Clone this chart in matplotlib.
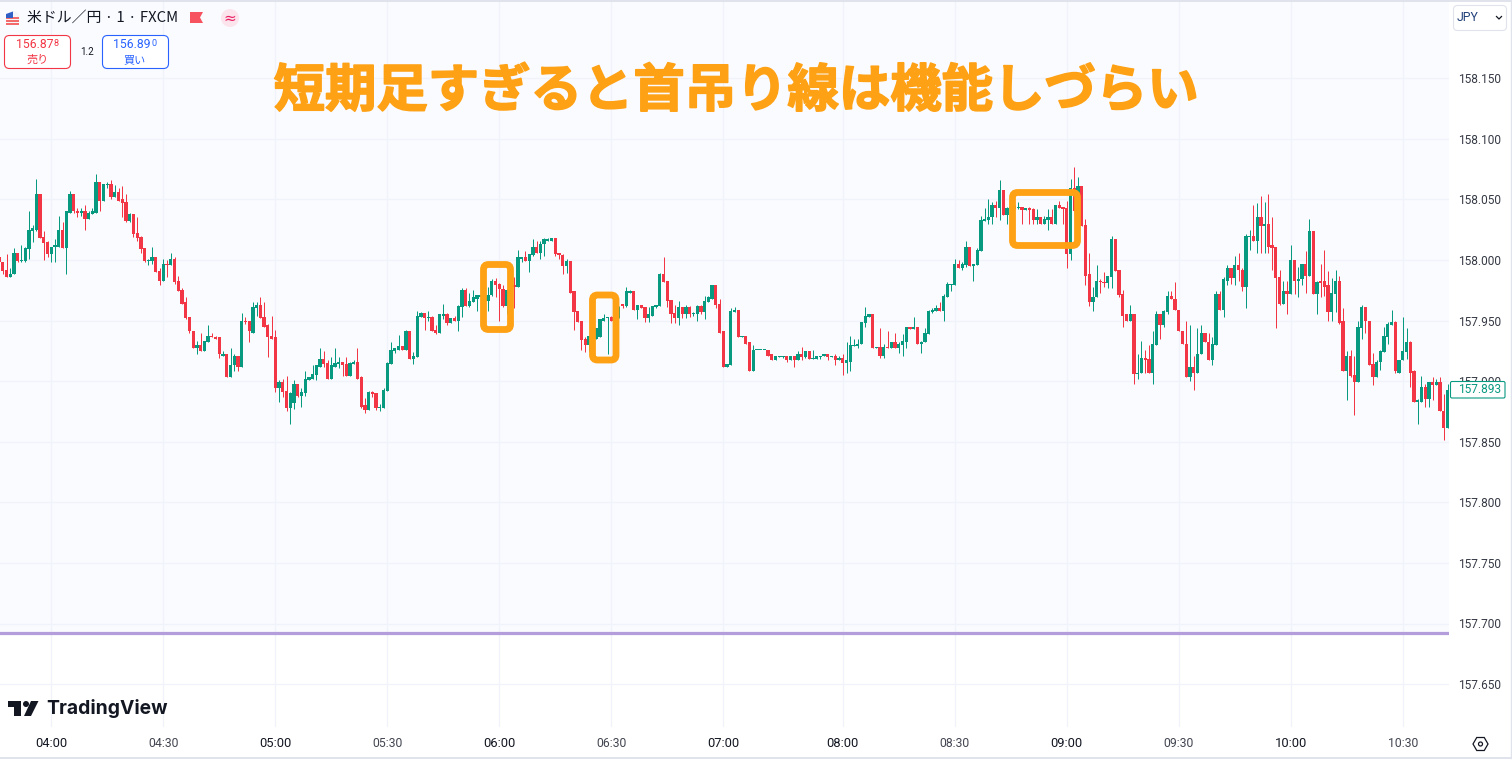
import numpy as np
import matplotlib
matplotlib.use("Agg")
import matplotlib.pyplot as plt
import matplotlib.patheffects as pe
from matplotlib.patches import FancyBboxPatch, Polygon, Circle, RegularPolygon, Rectangle
from matplotlib.lines import Line2D
from matplotlib.transforms import Affine2D

# Prices are thousandths of a yen above 157.000
price_base = 157.0
opens = [
 1002,998,992,986,988,1006,999,999,1009,1024, 1025,1054,1019,1015,1005,1011,1011,1025,1010,1039,
 1054,1040,1039,1040,1034,1038,1039,1064,1049,1062, 1063,1052,1056,1050,1048,1032,1038,1022,1019,1010,
 999,999,1002,991,983,997,996,1001,983,975, 965,953,941,927,930,925,932,937,936,936,
 921,922,903,913,921,912,950,950,940,960, 963,953,946,937,936,894,899,892,878,882,
 898,888,890,901,902,905,912,918,915,902, 912,914,916,914,904,914,916,903,880,876,
 891,890,878,878,892,914,925,926,929,926, 941,918,920,953,956,952,953,942,940,954,
 955,948,952,950,961,975,962,965,968,969, 971,966,971,983,980,976,962,975,979,978,
 1001,1002,999,1004,1011,1006,1013,1016,1016,1018, 1006,1004,995,999,974,958,950,935,930,936,
 935,936,950,952,953,950,952,964,962,973, 974,959,963,961,952,954,961,962,988,983,
 967,956,952,961,955,961,955,955,962,957, 965,968,979,964,941,912,913,957,959,936,
 937,932,908,926,926,926,926,922,917,920, 920,921,917,921,917,922,920,925,918,918,
 920,921,922,920,921,917,919,915,916,929, 929,931,948,953,955,927,928,921,928,927,
 932,927,930,932,945,943,945,931,932,939, 957,958,960,958,969,979,979,997,993,996,
 1011,995,996,1007,1032,1033,1035,1045,1043,1058, 1037,1043,1044,1043,1044,1041,1043,1042,1033,1035,
 1030,1033,1035,1030,1045,1044,1043,1005,1059,1040, 1061,1029,988,965,969,983,982,981,986,1017,
 992,972,955,950,955,906,907,919,918,907, 930,955,946,957,970,968,959,941,931,903,
 912,907,922,940,932,917,930,972,959,983, 993,985,996,992,978,1019,1020,1016,1035,1028,
 1030,1012,1011,986,964,974,972,1000,983,984, 997,987,1024,972,983,983,979,957,972,983,
 950,908,921,905,899,944,961,950,914,903, 916,924,936,946,949,907,917,924,932,908,
 883,883,895,885,899,897,899,875,861]
highs = [
 1002,998,1005,993,1010,1006,1012,1011,1040,1029, 1067,1054,1024,1016,1011,1017,1036,1031,1040,1057,
 1054,1043,1043,1045,1040,1043,1071,1064,1063,1064, 1066,1062,1059,1061,1054,1039,1038,1035,1020,1010,
 1001,1011,1002,993,1001,1000,1006,1002,987,977, 969,953,941,933,940,933,946,940,937,936,
 925,922,927,922,921,956,953,950,965,965, 969,965,947,954,942,901,902,904,891,901,
 898,894,908,903,913,913,927,925,917,920, 927,920,916,920,916,917,927,904,886,892,
 892,890,881,894,916,932,927,938,929,942, 941,924,958,957,956,958,954,946,955,964,
 956,952,954,963,977,977,973,975,971,971, 972,978,984,985,981,979,976,978,986,1008,
 1002,1007,1005,1017,1016,1016,1018,1018,1018,1018, 1006,1005,1001,999,974,958,950,936,937,938,
 944,951,955,953,954,956,962,964,978,975, 974,963,963,961,961,962,963,989,1002,983,
 967,963,966,961,963,962,957,963,963,970, 970,979,979,968,941,914,960,961,959,937,
 937,932,930,926,926,926,926,922,921,921, 921,921,921,921,925,928,925,925,926,921,
 921,922,922,921,922,921,922,932,937,935, 935,949,961,955,955,928,944,931,941,932,
 940,932,939,945,945,953,945,933,944,959, 960,963,965,972,982,980,1001,1000,998,1016,
 1011,997,1010,1036,1043,1050,1048,1049,1066,1058, 1044,1045,1045,1048,1044,1043,1044,1043,1042,1035,
 1036,1042,1042,1045,1049,1044,1049,1067,1077,1068, 1061,1034,1006,978,996,984,990,987,1020,1017,
 992,975,955,963,955,922,933,926,930,941, 958,955,959,974,974,982,959,941,950,946,
 921,944,946,940,940,936,974,974,986,996, 993,1003,1006,993,1021,1025,1045,1047,1053,1048,
 1054,1035,1011,992,983,983,1012,1000,994,997, 1007,1034,1024,983,997,1008,991,985,992,987,
 960,925,926,921,950,963,961,950,923,917, 926,945,949,959,950,917,953,944,933,909,
 885,904,898,899,903,902,903,889,898]
lows = [
 998,988,986,986,988,998,998,998,1001,1015, 1024,1018,1000,1002,998,998,1011,1010,988,1039,
 1039,1035,1036,1025,1034,1038,1039,1040,1049,1059, 1050,1052,1049,1035,1031,1031,1019,1016,1006,998,
 996,997,990,979,983,986,996,980,974,964, 951,940,927,922,925,925,932,936,935,919,
 921,903,903,908,908,912,947,932,940,954, 952,945,920,935,891,883,887,875,865,877,
 887,879,888,901,902,901,912,912,902,902, 912,911,904,904,904,914,902,878,874,876,
 887,876,875,878,892,914,923,926,926,926, 918,914,920,953,942,950,941,939,940,951,
 946,948,950,941,953,962,961,965,958,966, 966,958,970,969,950,961,955,970,960,978,
 998,999,990,1003,1006,1001,1003,1016,1016,1003, 1001,988,989,973,942,949,926,924,925,934,
 935,936,950,922,950,948,952,960,961,973, 959,951,960,949,949,954,960,962,982,961,
 948,948,946,952,952,953,954,950,955,951, 965,968,960,940,912,912,913,957,936,936,
 931,908,908,926,926,926,921,917,917,920, 919,916,917,912,917,917,919,918,918,918,
 918,921,917,920,913,917,905,907,908,929, 927,931,945,953,927,927,919,919,927,927,
 927,923,921,927,943,943,931,923,932,939, 956,958,958,950,969,974,979,993,992,994,
 995,983,996,1007,1032,1030,1030,1035,1033,1037, 1030,1042,1042,1042,1030,1041,1030,1030,1030,1030,
 1030,1025,1030,1030,1043,1030,993,1000,1040,1034, 1028,979,962,958,969,973,978,977,977,991,
 969,945,950,950,898,902,907,907,907,898, 930,935,945,955,968,959,941,931,903,900,
 893,907,922,932,917,913,930,959,953,979, 980,979,983,974,960,1008,1016,1006,1006,1006,
 1006,992,944,963,964,955,972,972,969,979, 973,987,972,955,969,970,950,950,957,947,
 908,884,903,872,899,935,940,913,897,903, 909,924,931,946,907,907,917,918,895,883,
 865,883,879,879,884,897,875,851,861]
closes = [
 998,991,986,988,1006,999,1000,1010,1025,1026, 1054,1018,1014,1005,1011,1012,1025,1010,1040,1054,
 1040,1039,1040,1034,1039,1040,1064,1049,1063,1063, 1052,1056,1049,1047,1032,1038,1021,1018,1009,999,
 1000,1002,990,983,997,996,1001,982,974,964, 952,941,927,930,925,933,937,936,935,922,
 922,903,913,921,912,950,949,941,961,963, 952,945,936,935,894,899,891,878,890,898,
 888,891,902,903,906,913,918,914,902,913, 915,916,913,904,915,916,902,879,876,891,
 889,878,879,893,915,926,927,929,926,941, 918,921,954,956,952,953,941,940,955,955,
 948,952,950,962,975,962,966,969,971,971, 966,971,983,979,976,962,975,974,978,1002,
 1002,999,1005,1011,1006,1013,1017,1017,1018,1005, 1004,995,999,973,957,949,934,930,937,937,
 944,951,952,953,950,952,958,962,974,974, 959,963,960,952,955,962,963,988,982,966,
 955,952,961,955,961,955,956,962,957,966, 969,979,963,940,912,914,958,959,936,937,
 931,908,926,926,926,926,921,917,921,921, 921,917,921,917,922,920,925,918,919,921,
 921,922,920,921,917,919,915,917,930,930, 931,949,954,955,927,928,921,928,927,932,
 927,931,933,945,943,945,931,932,940,958, 959,960,958,970,980,980,997,993,997,1011,
 995,997,1008,1033,1034,1035,1045,1043,1058,1037, 1043,1044,1043,1044,1041,1043,1041,1033,1035,1030,
 1034,1035,1030,1045,1043,1042,1005,1059,1040,1061, 1028,987,965,969,983,982,981,987,1017,991,
 971,954,950,955,906,907,919,917,907,931, 955,946,958,970,968,959,941,931,903,912,
 907,922,940,932,917,931,972,959,984,993, 985,996,992,978,1020,1020,1016,1035,1028,1030,
 1011,1010,985,964,974,972,1000,983,984,997, 987,1024,972,982,981,978,957,973,983,948,
 908,921,904,899,945,961,950,913,903,916, 925,937,947,949,908,917,925,932,907,883,
 884,895,885,899,897,899,875,861,893]

first_bar = -14            # the 04:00 bar is bar 0
time_tick_bars = [0, 30, 60, 90, 120, 150, 180, 212, 242, 272, 302, 332, 362]
time_tick_labels = ["04:00","04:30","05:00","05:30","06:00","06:30","07:00",
                    "08:00","08:30","09:00","09:30","10:00","10:30"]
price_ticks = [158.15,158.10,158.05,158.00,157.95,157.90,157.85,157.80,157.75,157.70,157.65]
last_price = 157.893
level_line = 157.692
chart_title = "短期足すぎると首吊り線は機能しづらい"
symbol_title = "米ドル／円 · 1 · FXCM"
sell_price, sell_sup, buy_price, buy_sup, spread = "156.87", "8", "156.89", "0", "1.2"

W, H = 1512, 764
UP, DOWN = "#089981", "#f23645"
GRID, PANE = "#f0f3fa", "#f9fbff"
INK, ORANGE = "#131722", "#ffa114"
LATIN = "Roboto"
CJK = ["Noto Sans CJK JP", "DejaVu Sans"]

fig = plt.figure(figsize=(W/100, H/100), dpi=100, facecolor="white")
pane_right, pane_bottom, pane_top = 1449, 727, 2
ax = fig.add_axes([0, 1-pane_bottom/H, pane_right/W, (pane_bottom-pane_top)/H])
ax.set_facecolor("white")

o, h, l, c = [price_base + np.array(v)/1000 for v in (opens, highs, lows, closes)]
bars = np.arange(len(o)) + first_bar
px_per_bar = 112/30
px_per_yen = 1212.0
ax.set_xlim(-51.3/px_per_bar, (pane_right-51.3)/px_per_bar)
ax.set_ylim(158.05-(pane_bottom-199.3)/px_per_yen, 158.05+(199.3-pane_top)/px_per_yen)

ax.axhspan(level_line, ax.get_ylim()[1], color=PANE, lw=0, zorder=0)
ax.set_xticks(time_tick_bars, time_tick_labels)
ax.set_yticks(price_ticks, [f"{p:.3f}" for p in price_ticks])
ax.grid(True, color=GRID, lw=0.9, zorder=1)
ax.set_axisbelow(True)
for s in ax.spines.values():
    s.set_visible(False)
ax.yaxis.tick_right()
ax.tick_params(axis="y", length=0, pad=6.6, labelsize=8.6, labelcolor="#363a45")
ax.tick_params(axis="x", length=0, pad=7.5)
for t in ax.get_yticklabels():
    t.set_family(LATIN)
for t, lab in zip(ax.get_xticklabels(), time_tick_labels):
    t.set_family(LATIN)
    if lab.endswith(":00"):
        t.set_fontsize(9.4); t.set_color(INK)
    else:
        t.set_fontsize(8.8); t.set_color("#434651")

colors = np.where(c >= o, UP, DOWN)
wicks = ax.vlines(bars, l, h, colors=colors, lw=0.72, zorder=3)
wicks.set_snap(True)
ax.bar(bars, np.maximum(np.abs(c-o), 1/px_per_yen), bottom=np.minimum(o, c),
       width=0.86, color=colors, lw=0, zorder=4)
ax.axhline(level_line, color="#b39ddb", lw=2.3, zorder=5)

# ---- overlays in screen pixels
pix = Affine2D().scale(1/W, -1/H).translate(0, 1) + fig.transFigure
def add(a):
    a.set_transform(pix)
    a.set_zorder(10)
    fig.add_artist(a)
    return a
def text(x, y, s, size, color=INK, family=LATIN, ha="left", weight="normal"):
    return fig.text(x/W, 1-y/H, s, fontsize=size, color=color, family=family,
                    ha=ha, va="center", fontweight=weight, zorder=11)
def rounded(x0, y0, x1, y1, rad, fc, ec, lw):
    return add(FancyBboxPatch((x0, y0), x1-x0, y1-y0,
               boxstyle=f"round,pad=0,rounding_size={rad}", fc=fc, ec=ec, lw=lw))

# highlight boxes and headline
for x0, y0, x1, y1 in [(483.5,264.5,510.5,329.5), (592.5,295,616,360), (1012.5,192.5,1077.5,245.5)]:
    rounded(x0, y0, x1, y1, 5, "none", ORANGE, 4.9)
headline = text(736, 91, chart_title, 37.0, ORANGE, CJK, "center", "bold")
headline.set_path_effects([pe.withStroke(linewidth=1.2, foreground=ORANGE)])

# legend row
add(Circle((13, 18), 7, fc="#f4f5f8", ec="none"))
for yy in (17, 20, 23):
    add(Rectangle((6, yy), 13, 1.6, fc="#f26a6a", ec="none"))
add(Polygon([(6,14),(13,11.5),(13,18),(6,18)], fc="#2f5fc4", ec="none"))
text(27, 18, symbol_title, 10.7, INK, CJK)
add(Polygon([(190,12),(203,12),(200,17.5),(203,23),(190,23)], fc="#f7525f", ec="none"))
add(Circle((230, 18), 9, fc="#fce4ec", ec="none"))
text(230, 18, "≈", 11, "#e91e63", "DejaVu Sans", "center")
rounded(4.5, 35.5, 70.5, 68.5, 5, "white", DOWN, 0.8)
rounded(102.5, 35.5, 168.5, 68.5, 5, "white", "#2962ff", 0.8)
text(16, 45, sell_price, 8.8, DOWN)
text(53.5, 43.5, sell_sup, 6.5, DOWN)
text(37.5, 60, "売り", 8, DOWN, CJK, "center")
text(113, 45, buy_price, 8.8, "#2962ff")
text(151.5, 43.5, buy_sup, 6.5, "#2962ff")
text(135, 60, "買い", 8, "#2962ff", CJK, "center")
text(87, 52, spread, 7, INK, LATIN, "center")

# currency button
rounded(1453.5, 5.5, 1506.5, 30.5, 4, "white", "#e0e3eb", 0.8)
text(1457, 17.5, "JPY", 8.8, "#1f3f78")
add(Line2D([1496.5,1499,1501.5], [16.5,19,16.5], color=INK, lw=0.9))

# last price tag
rounded(1450.5, 381.5, 1505, 398, 1.5, "white", UP, 0.8)
text(1479.5, 389.8, f"{last_price:.3f}", 8.6, UP, LATIN, "center")

# settings icon
add(RegularPolygon((1480.5, 744), 6, radius=7.5, orientation=np.pi/2, fc="white", ec=INK, lw=0.9))
add(Circle((1480.5, 744), 2, fc="white", ec=INK, lw=0.9))

# TradingView logo
add(Polygon([(8,701),(21,701),(21,716),(14,716),(14,707),(8,707)], fc=INK, ec="none"))
add(Circle((26, 704), 3, fc=INK, ec="none"))
add(Polygon([(31,701),(38.5,701),(31,716),(24,716)], fc=INK, ec="none"))
text(46, 708.5, "TradingView", 13.9, INK, "Inter", "left", "bold")

# frame
add(Line2D([0,W], [758,758], color="#e0e3eb", lw=1.4))
add(Line2D([0,W], [0.5,0.5], color="#e0e3eb", lw=1.4))
add(Line2D([1510.5,1510.5], [0,758], color="#e0e3eb", lw=1.0))

fig.savefig("out.png", dpi=100)
